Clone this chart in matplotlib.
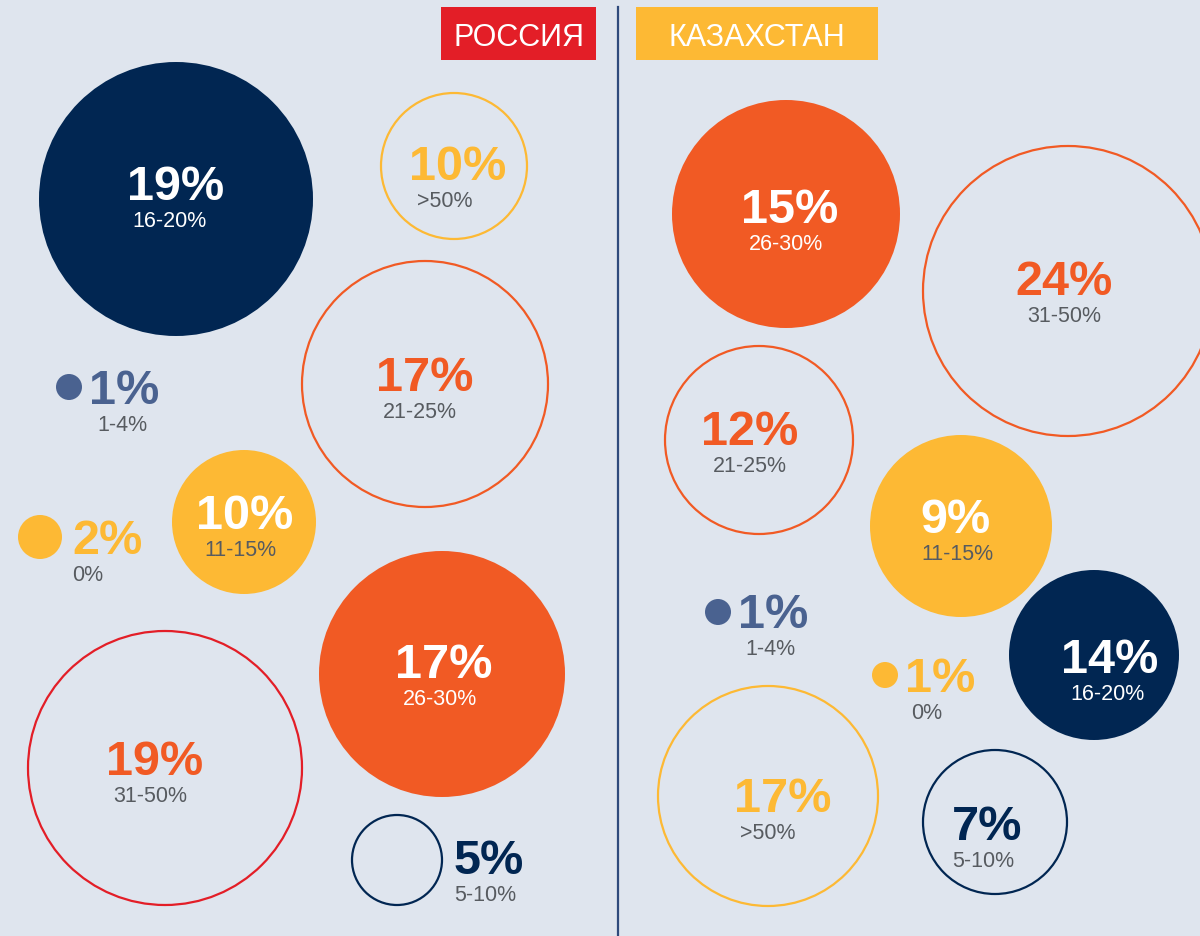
import matplotlib
matplotlib.use("Agg")
import matplotlib.pyplot as plt
from matplotlib.patches import Circle, Rectangle

plt.rcParams['font.family'] = ['Liberation Sans', 'DejaVu Sans']

# ---- data ----------------------------------------------------------------
countries = ["РОССИЯ", "КАЗАХСТАН"]

ru_shares = [19, 10, 17, 1, 2, 10, 17, 19, 5]
ru_ranges = ["16-20%", ">50%", "21-25%", "1-4%", "0%", "11-15%", "26-30%", "31-50%", "5-10%"]

kz_shares = [15, 24, 12, 9, 1, 1, 14, 17, 7]
kz_ranges = ["26-30%", "31-50%", "21-25%", "11-15%", "1-4%", "0%", "16-20%", ">50%", "5-10%"]

# ---- palette -------------------------------------------------------------
BG = "#dfe5ee"
NAVY = "#012652"
ORANGE = "#f15a24"
YELLOW = "#fdb934"
RED = "#e31e27"
SLATE = "#4a6290"
GREY = "#575b60"

RANGE_COLOR = {"16-20%": NAVY, "5-10%": NAVY, "21-25%": ORANGE, "26-30%": ORANGE,
               "31-50%": ORANGE, "11-15%": YELLOW, ">50%": YELLOW, "0%": YELLOW,
               "1-4%": SLATE}

# ---- layout: (cx, cy, radius, kind, value-text x, value baseline, range-text x)
ru_layout = [
    (176, 200, 137, "fill", 176, 200, 170),
    (454, 167, 73, "ring", 458, 180, 445),
    (425, 385, 123, "ring", 425, 391, 420),
    (69, 388, 13, "dot", 124, 404, 122),
    (40, 538, 22, "dot", 108, 554, 88),
    (244, 523, 72, "fill", 245, 529, 240),
    (442, 675, 123, "fill", 444, 678, 440),
    (165, 769, 137, "ring", 155, 775, 150),
    (397, 861, 45, "ring", 489, 874, 485),
]
ru_ring_override = {7: RED}

kz_layout = [
    (786, 215, 114, "fill", 790, 223, 786),
    (1068, 292, 145, "ring", 1064, 295, 1064),
    (759, 441, 94, "ring", 750, 445, 750),
    (961, 527, 91, "fill", 955, 533, 957),
    (718, 613, 13, "dot", 773, 628, 770),
    (885, 676, 13, "dot", 940, 692, 927),
    (1094, 656, 85, "fill", 1110, 673, 1107),
    (768, 797, 110, "ring", 783, 812, 768),
    (995, 823, 72, "ring", 987, 840, 983),
]

fig = plt.figure(figsize=(12, 9.37), dpi=100)
fig.patch.set_facecolor(BG)
ax = fig.add_axes([0, 0, 1, 1])
ax.set_xlim(0, 1200)
ax.set_ylim(937, 0)
ax.set_facecolor(BG)
ax.axis("off")

VALUE_SIZE = 35
RANGE_SIZE = 15.5


def draw_panel(shares, ranges, layout, ring_override=None):
    ring_override = ring_override or {}
    for i, (share, rng, lay) in enumerate(zip(shares, ranges, layout)):
        cx, cy, r, kind, vx, vy, rx = lay
        color = RANGE_COLOR[rng]
        if kind in ("fill", "dot"):
            ax.add_patch(Circle((cx, cy), r, facecolor=color, edgecolor="none", zorder=2))
        else:
            ax.add_patch(Circle((cx, cy), r, facecolor="none",
                                edgecolor=ring_override.get(i, color), lw=1.6, zorder=2))
        if kind == "fill":
            vcol = "white"
            rcol = GREY if color == YELLOW else "white"
        else:
            vcol = color
            rcol = GREY
        if kind == "ring" and i in ring_override:
            vcol = ORANGE
        ax.text(vx, vy, f"{share}%", ha="center", va="baseline", color=vcol,
                fontsize=VALUE_SIZE, fontweight="bold", zorder=3)
        ax.text(rx, vy + 27, rng, ha="center", va="baseline", color=rcol,
                fontsize=RANGE_SIZE, zorder=3)


draw_panel(ru_shares, ru_ranges, ru_layout, ru_ring_override)
draw_panel(kz_shares, kz_ranges, kz_layout)

# divider between the two countries
ax.plot([618, 618], [8, 937], color="#2f4a7c", lw=1.6, zorder=1)

# country headers
for name, (x0, x1), col in zip(countries, [(441, 596), (636, 878)], [RED, YELLOW]):
    ax.add_patch(Rectangle((x0, 8), x1 - x0, 53, facecolor=col, edgecolor="none", zorder=2))
    ax.text((x0 + x1) / 2, 46, name, ha="center", va="baseline", color="white",
            fontsize=22, zorder=3)

fig.savefig("out.png", dpi=100, facecolor=BG)
